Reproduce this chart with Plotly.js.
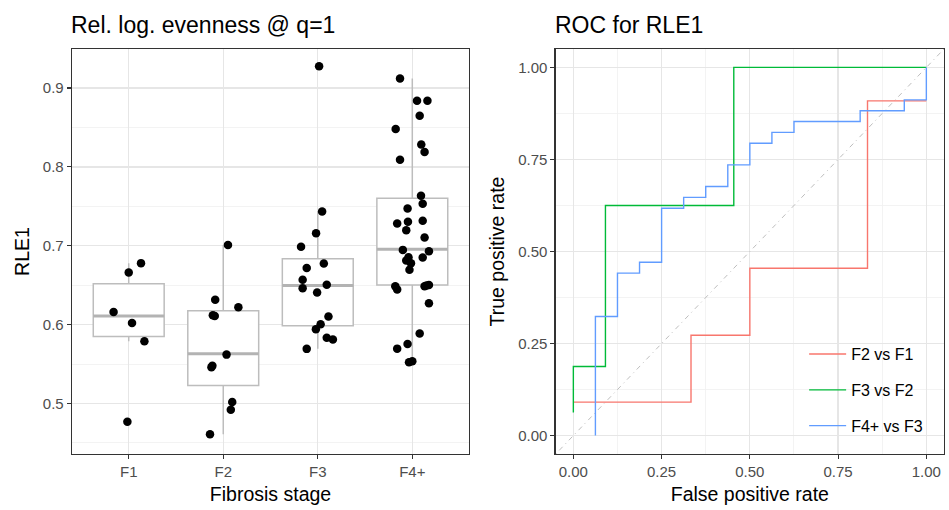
<!DOCTYPE html>
<html>
<head>
<meta charset="utf-8">
<script src="https://cdn.plot.ly/plotly-3.0.1.min.js"></script>
<style>html,body{margin:0;padding:0;background:#fff;}#chart{width:949px;height:510px;}</style>
</head>
<body>
<div id="chart"></div>
<script>
// ---- Left panel data ----
var stages = ["F1", "F2", "F3", "F4+"];
var rleF1 = [0.666, 0.678, 0.616, 0.602, 0.579, 0.477];
var jitF1 = [0.0, 0.13, -0.16, 0.035, 0.166, -0.014];
var rleF2 = [0.701, 0.6315, 0.622, 0.612, 0.611, 0.562, 0.548, 0.546, 0.502, 0.492, 0.461];
var jitF2 = [0.05, -0.085, 0.16, -0.11, -0.09, 0.035, -0.115, -0.125, 0.095, 0.08, -0.14];
var rleF3 = [0.9275, 0.7436, 0.716, 0.6987, 0.6776, 0.6717, 0.657, 0.6463, 0.6505, 0.6408, 0.6104, 0.6006, 0.5943, 0.5833, 0.5812, 0.5693];
var jitF3 = [0.014, 0.046, -0.018, -0.177, 0.064, -0.117, -0.16, -0.16, 0.095, -0.007, 0.113, 0.03, -0.02, 0.095, 0.16, -0.117];
var rleF4 = [0.912, 0.884, 0.884, 0.865, 0.848, 0.8285, 0.8188, 0.809, 0.7634, 0.7532, 0.7473, 0.7283, 0.7304, 0.7316, 0.7198, 0.7105, 0.6948, 0.6932, 0.6851, 0.6855, 0.6813, 0.6779, 0.6695, 0.6487, 0.6445, 0.6487, 0.6504, 0.6496, 0.6272, 0.5887, 0.5756, 0.5696, 0.5523, 0.5535];
var jitF4 = [-0.13, 0.05, 0.16, 0.078, -0.176, 0.095, 0.13, -0.13, 0.092, 0.11, -0.05, -0.16, -0.046, 0.11, -0.064, 0.13, -0.1, 0.176, 0.11, -0.04, -0.064, -0.014, -0.03, -0.18, -0.16, 0.13, 0.176, 0.15, 0.176, 0.078, -0.05, -0.16, -0.035, 0.0];

var boxQ1 = [0.585, 0.523, 0.5985, 0.6504];
var boxMedian = [0.611, 0.563, 0.6497, 0.6957];
var boxQ3 = [0.652, 0.6175, 0.6835, 0.7604];
var boxLow = [0.579, 0.461, 0.5693, 0.5523];
var boxHigh = [0.678, 0.701, 0.7436, 0.912];

// ---- Right panel data: ROC corner points (FPR, TPR) ----
var rocNames = ["F2 vs F1", "F3 vs F2", "F4+ vs F3"];
var fprF2F1 = [0, 0.3333, 0.5, 0.8333, 1];
var tprF2F1 = [0.0909, 0.0909, 0.2727, 0.4545, 0.9091];
var fprF3F2 = [0, 0.0909, 0.4545, 1];
var tprF3F2 = [0.0625, 0.1875, 0.625, 1];
var fprF4F3 = [0.0625, 0.125, 0.1875, 0.25, 0.3125, 0.375, 0.4375, 0.5, 0.5625, 0.625, 0.8125, 0.9375, 1, 1];
var tprF4F3 = [0, 0.3235, 0.4412, 0.4706, 0.6176, 0.6471, 0.6765, 0.7353, 0.7941, 0.8235, 0.8529, 0.8824, 0.9118, 1];

var FONT = "Arial, 'Liberation Sans', sans-serif";
var boxColor = "#bdbdbd";
var boxWidth = 0.75;

var allY = [rleF1, rleF2, rleF3, rleF4];
var allJ = [jitF1, jitF2, jitF3, jitF4];
var px = [], py = [];
for (var g = 0; g < 4; g++) {
  for (var i = 0; i < allY[g].length; i++) { px.push(g + allJ[g][i]); py.push(allY[g][i]); }
}
var medX = [], medY = [];
for (var k = 0; k < 4; k++) {
  medX.push(k - boxWidth / 2, k + boxWidth / 2, null);
  medY.push(boxMedian[k], boxMedian[k], null);
}

var traces = [
  {type: "box", x: [0, 1, 2, 3], q1: boxQ1, median: boxMedian, q3: boxQ3,
   lowerfence: boxLow, upperfence: boxHigh, width: boxWidth, boxpoints: false,
   whiskerwidth: 0, fillcolor: "white", line: {color: boxColor, width: 1.5},
   showlegend: false, hoverinfo: "skip", xaxis: "x", yaxis: "y"},
  {type: "scatter", mode: "lines", x: medX, y: medY, line: {color: "#b3b3b3", width: 3},
   showlegend: false, hoverinfo: "skip", xaxis: "x", yaxis: "y"},
  {type: "scatter", mode: "markers", x: px, y: py, marker: {color: "black", size: 8.5},
   showlegend: false, xaxis: "x", yaxis: "y"},
  {type: "scatter", mode: "lines", name: rocNames[0], x: fprF2F1, y: tprF2F1,
   line: {color: "#F8766D", width: 1.4, shape: "vh"}, xaxis: "x2", yaxis: "y2", legendgroup: "a"},
  {type: "scatter", mode: "lines", name: rocNames[1], x: fprF3F2, y: tprF3F2,
   line: {color: "#00BA38", width: 1.4, shape: "vh"}, xaxis: "x2", yaxis: "y2", legendgroup: "b"},
  {type: "scatter", mode: "lines", name: rocNames[2], x: fprF4F3, y: tprF4F3,
   line: {color: "#619CFF", width: 1.4, shape: "vh"}, xaxis: "x2", yaxis: "y2", legendgroup: "c"}
];

var tickFont = {family: FONT, size: 15, color: "#4d4d4d"};
var titleFont = {family: FONT, size: 19.5, color: "#000"};
var gridMajor = "#e6e6e6", gridMinor = "#f0f0f0";
function baseAxis(extra) {
  var a = {showline: true, mirror: true, linecolor: "#333333", linewidth: 1.3,
    ticks: "outside", ticklen: 4, tickwidth: 1.1, tickcolor: "#333333",
    tickfont: tickFont, showgrid: true, gridcolor: gridMajor, gridwidth: 1.2,
    zeroline: false, fixedrange: true};
  for (var key in extra) a[key] = extra[key];
  return a;
}

var layout = {
  width: 949, height: 510,
  margin: {l: 72, r: 5, t: 49, b: 56},
  paper_bgcolor: "white", plot_bgcolor: "white",
  font: {family: FONT},
  showlegend: true,
  xaxis: baseAxis({domain: [0, 0.4553], range: [-0.6, 3.6], tickmode: "array",
    tickvals: [0, 1, 2, 3], ticktext: stages,
    title: {text: "Fibrosis stage", font: titleFont, standoff: 8}}),
  yaxis: baseAxis({range: [0.436, 0.9495], tick0: 0, dtick: 0.1, tickformat: ".1f",
    minor: {dtick: 0.05, showgrid: true, gridcolor: gridMinor, gridwidth: 0.8},
    title: {text: "RLE1", font: titleFont, standoff: 8}}),
  xaxis2: baseAxis({domain: [0.5547, 1], range: [-0.05, 1.05], tick0: 0, dtick: 0.25, tickformat: ".2f",
    anchor: "y2",
    minor: {dtick: 0.125, showgrid: true, gridcolor: gridMinor, gridwidth: 0.8},
    title: {text: "False positive rate", font: titleFont, standoff: 8}}),
  yaxis2: baseAxis({range: [-0.05, 1.05], tick0: 0, dtick: 0.25, tickformat: ".2f", anchor: "x2",
    minor: {dtick: 0.125, showgrid: true, gridcolor: gridMinor, gridwidth: 0.8},
    title: {text: "True positive rate", font: titleFont, standoff: 8}}),
  legend: {x: 0.8396, xanchor: "left", y: 0.2885, yanchor: "top", bgcolor: "rgba(0,0,0,0)",
    font: {family: FONT, size: 16, color: "#000"}, tracegroupgap: 12, itemwidth: 37},
  shapes: [
    {type: "rect", xref: "paper", yref: "paper", x0: 0.833, x1: 0.998, y0: 0.01, y1: 0.398,
     fillcolor: "white", line: {width: 0}, layer: "between"},
    {type: "line", xref: "x2", yref: "y2", x0: -0.05, y0: -0.05, x1: 1.05, y1: 1.05,
     line: {color: "#bdbdbd", width: 1, dash: "1px,4px,5px,4px"}, layer: "between"}
  ],
  annotations: [
    {text: "Rel. log. evenness @ q=1", xref: "paper", yref: "paper", x: 0, y: 1.022, xshift: -3,
     xanchor: "left", yanchor: "bottom", showarrow: false, font: {family: FONT, size: 23, color: "#000"}},
    {text: "ROC for RLE1", xref: "paper", yref: "paper", x: 0.5547, y: 1.022, xshift: -3,
     xanchor: "left", yanchor: "bottom", showarrow: false, font: {family: FONT, size: 23, color: "#000"}}
  ]
};

Plotly.newPlot("chart", traces, layout, {displayModeBar: false, staticPlot: true});
</script>
</body>
</html>
